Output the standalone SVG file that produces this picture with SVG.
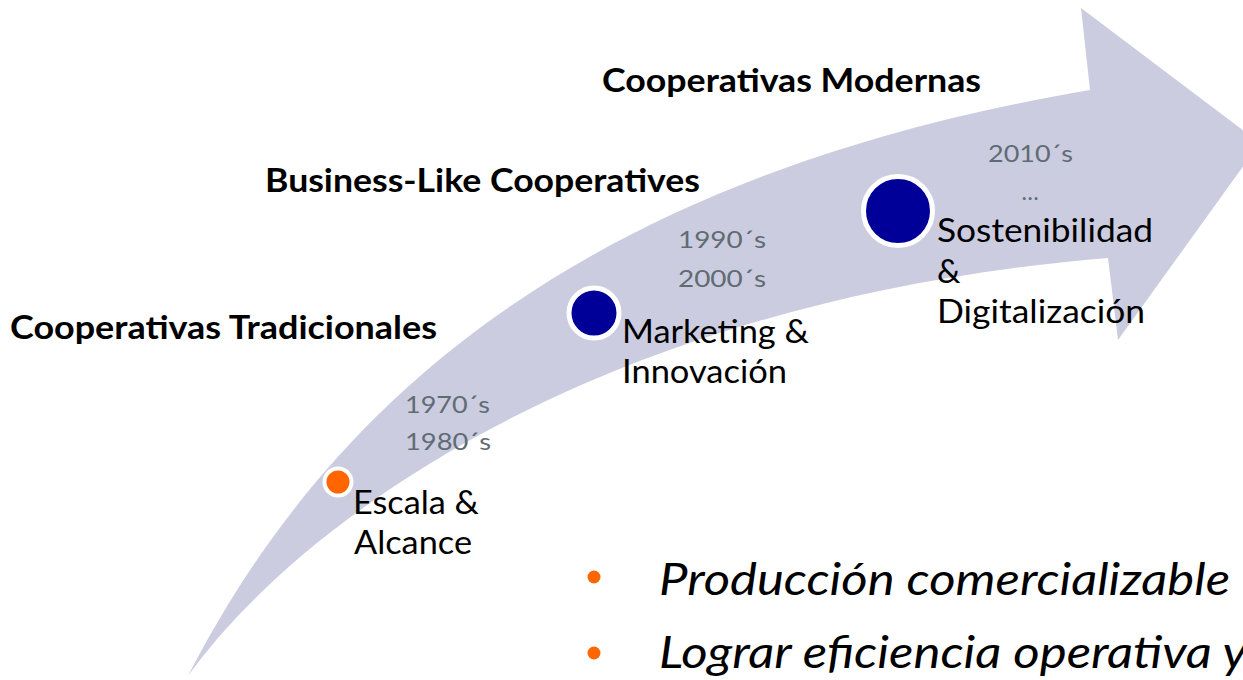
<svg xmlns="http://www.w3.org/2000/svg" width="1243" height="680" viewBox="0 0 1243 680">
<style>
.title{font-family:Lato,"Open Sans","Liberation Sans",sans-serif;font-weight:700;font-size:33px;fill:#000}
.lbl{font-family:Lato,"Open Sans","Liberation Sans",sans-serif;font-size:33px;fill:#000}
.yr{font-family:Lato,"Open Sans","Liberation Sans",sans-serif;font-size:23px;fill:#606B73}
.bul{font-family:Lato,"Open Sans","Liberation Sans",sans-serif;font-style:italic;font-size:45px;fill:#000}
.dot-o{fill:#FF6600;stroke:#fff;stroke-width:4}
.dot-b{fill:#000099;stroke:#fff;stroke-width:5}
</style>
<rect width="1243" height="680" fill="#fff"/>
<g id="arrow">
<path d="M188,676 C320,420 560,180 1090,90 L1081,8 L1260,143 L1118,340 L1108,258 C600,300 300,520 188,676 Z" fill="#CBCCDF"/>
</g>
<g id="connectors"></g>
<g id="titles">
<text class="title" x="602" y="92" textLength="379" lengthAdjust="spacingAndGlyphs">Cooperativas Modernas</text>
<text class="title" x="265" y="192" textLength="435" lengthAdjust="spacingAndGlyphs">Business-Like Cooperatives</text>
<text class="title" x="10" y="339" textLength="427" lengthAdjust="spacingAndGlyphs">Cooperativas Tradicionales</text>
</g>
<g id="node-escala">
<circle class="dot-o" cx="338" cy="482" r="13.5"/>
<text class="yr" x="405" y="413" textLength="85" lengthAdjust="spacingAndGlyphs">1970´s</text>
<text class="yr" x="405" y="450" textLength="86" lengthAdjust="spacingAndGlyphs">1980´s</text>
<text class="lbl" x="353" y="514" textLength="126" lengthAdjust="spacingAndGlyphs">Escala &amp;</text>
<text class="lbl" x="354" y="554" textLength="118" lengthAdjust="spacingAndGlyphs">Alcance</text>
</g>
<g id="node-marketing">
<circle class="dot-b" cx="594" cy="313" r="25"/>
<text class="yr" x="678" y="248" textLength="88" lengthAdjust="spacingAndGlyphs">1990´s</text>
<text class="yr" x="678" y="287" textLength="88" lengthAdjust="spacingAndGlyphs">2000´s</text>
<text class="lbl" x="622" y="343" textLength="187" lengthAdjust="spacingAndGlyphs">Marketing &amp;</text>
<text class="lbl" x="622" y="383" textLength="165" lengthAdjust="spacingAndGlyphs">Innovación</text>
</g>
<g id="node-sostenibilidad">
<circle class="dot-b" cx="898" cy="211" r="34.5" stroke-width="4.5"/>
<text class="yr" x="988" y="162" textLength="85" lengthAdjust="spacingAndGlyphs">2010´s</text>
<text class="yr" x="1030" y="200" text-anchor="middle">…</text>
<text class="lbl" x="937" y="242" textLength="216" lengthAdjust="spacingAndGlyphs">Sostenibilidad</text>
<text class="lbl" x="937" y="283">&amp;</text>
<text class="lbl" x="937" y="323" textLength="208" lengthAdjust="spacingAndGlyphs">Digitalización</text>
</g>
<g id="bullets">
<circle cx="594" cy="577" r="6.5" fill="#FF6600"/>
<text class="bul" x="659" y="595" textLength="571" lengthAdjust="spacingAndGlyphs">Producción comercializable</text>
<circle cx="594" cy="653" r="6.5" fill="#FF6600"/>
<text class="bul" x="659" y="668" textLength="588" lengthAdjust="spacingAndGlyphs">Lograr eficiencia operativa y</text>
</g>
</svg>
